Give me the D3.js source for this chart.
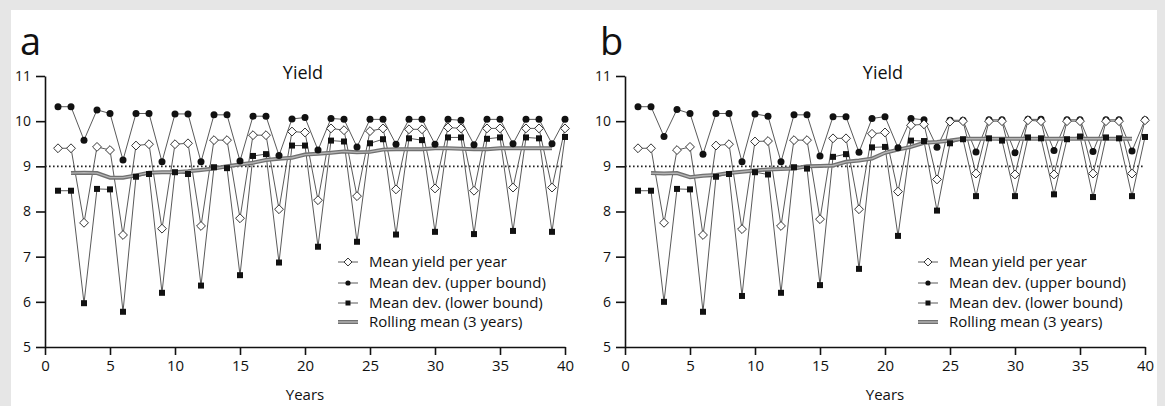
<!DOCTYPE html>
<html>
<head>
<meta charset="utf-8">
<script src="https://cdn.jsdelivr.net/npm/d3@7"></script>
<style>
  html, body { margin: 0; padding: 0; background: #e6e6e6; }
  svg { display: block; font-family: "Open Sans", Lato, sans-serif; }
</style>
</head>
<body>
<div id="chart"></div>
<script>
const years = d3.range(1, 41);
const rollYears = d3.range(2, 40);
const xTicks = [0, 5, 10, 15, 20, 25, 30, 35, 40];
const yTicks = [5, 6, 7, 8, 9, 10, 11];
const legendLabels = ['Mean yield per year', 'Mean dev. (upper bound)', 'Mean dev. (lower bound)', 'Rolling mean (3 years)'];

// panel a
const yieldA = [9.40, 9.40, 7.75, 9.43, 9.36, 7.48, 9.46, 9.49, 7.62, 9.49, 9.51, 7.68, 9.58, 9.58, 7.85, 9.69, 9.69, 8.05, 9.77, 9.75,
  8.25, 9.84, 9.80, 8.34, 9.78, 9.84, 8.49, 9.82, 9.82, 8.51, 9.86, 9.84, 8.46, 9.84, 9.84, 8.53, 9.84, 9.84, 8.53, 9.84];
const upperA = [10.32, 10.32, 9.58, 10.25, 10.17, 9.14, 10.17, 10.17, 9.10, 10.16, 10.16, 9.10, 10.14, 10.14, 9.12, 10.11, 10.11, 9.24, 10.05, 10.08,
  9.36, 10.06, 10.04, 9.43, 10.04, 10.04, 9.49, 10.04, 10.04, 9.49, 10.04, 10.02, 9.48, 10.04, 10.04, 9.50, 10.04, 10.04, 9.50, 10.04];
const lowerA = [8.46, 8.46, 5.97, 8.50, 8.49, 5.78, 8.77, 8.83, 6.20, 8.87, 8.83, 6.36, 8.98, 8.96, 6.59, 9.23, 9.27, 6.87, 9.46, 9.46,
  7.22, 9.57, 9.55, 7.33, 9.51, 9.60, 7.49, 9.62, 9.58, 7.55, 9.64, 9.64, 7.50, 9.61, 9.64, 7.57, 9.64, 9.62, 7.55, 9.65];
const rollA = [8.85, 8.86, 8.85, 8.75, 8.75, 8.80, 8.86, 8.87, 8.87, 8.89, 8.92, 8.95, 9.00, 9.04, 9.08, 9.14, 9.17, 9.19, 9.26,
  9.28, 9.30, 9.33, 9.31, 9.32, 9.37, 9.38, 9.38, 9.38, 9.40, 9.40, 9.39, 9.38, 9.38, 9.40, 9.40, 9.40, 9.40, 9.40];

// panel b
const yieldB = [9.40, 9.40, 7.75, 9.36, 9.43, 7.48, 9.46, 9.49, 7.61, 9.55, 9.56, 7.68, 9.58, 9.58, 7.83, 9.62, 9.62, 8.05, 9.72, 9.75,
  8.44, 9.91, 9.93, 8.71, 9.99, 10.00, 8.84, 10.00, 10.00, 8.82, 10.02, 10.00, 8.82, 10.00, 10.00, 8.84, 10.00, 10.00, 8.84, 10.02];
const upperB = [10.32, 10.32, 9.66, 10.26, 10.17, 9.27, 10.17, 10.17, 9.10, 10.16, 10.11, 9.10, 10.14, 10.14, 9.23, 10.10, 10.10, 9.31, 10.06, 10.10,
  9.41, 10.06, 10.03, 9.42, 10.02, 10.02, 9.32, 10.03, 10.03, 9.30, 10.04, 10.04, 9.35, 10.03, 10.03, 9.33, 10.03, 10.03, 9.34, 10.03];
const lowerB = [8.46, 8.46, 6.00, 8.50, 8.49, 5.78, 8.77, 8.83, 6.13, 8.87, 8.82, 6.20, 8.98, 8.95, 6.37, 9.21, 9.27, 6.73, 9.42, 9.43,
  7.46, 9.57, 9.56, 8.02, 9.51, 9.60, 8.34, 9.62, 9.57, 8.34, 9.64, 9.62, 8.38, 9.60, 9.66, 8.32, 9.64, 9.62, 8.34, 9.65];
const rollB = [8.85, 8.84, 8.85, 8.76, 8.79, 8.81, 8.85, 8.88, 8.91, 8.93, 8.94, 8.95, 9.00, 9.01, 9.02, 9.10, 9.13, 9.17, 9.30,
  9.37, 9.43, 9.52, 9.54, 9.57, 9.61, 9.61, 9.61, 9.61, 9.61, 9.61, 9.61, 9.61, 9.61, 9.61, 9.61, 9.61, 9.61, 9.61];

const W = 1165, H = 406;
const svg = d3.select('#chart').append('svg').attr('width', W).attr('height', H);

svg.append('rect').attr('x', 11).attr('y', 10).attr('width', 1146).attr('height', H - 10).attr('fill', '#fff');

const lineCol = '#5a5a5a';

function panel(offsetX, letter, yieldV, upperV, lowerV, rollV) {
  const x = d3.scaleLinear().domain([0, 40]).range([offsetX + 45, offsetX + 565]);
  const y = d3.scaleLinear().domain([5, 11]).range([347, 76]);
  const g = svg.append('g');

  // panel letter and title
  g.append('text').attr('x', offsetX + 20).attr('y', 55)
    .attr('font-size', '38px').attr('fill', '#111').text(letter);
  g.append('text').attr('x', offsetX + 303).attr('y', 79)
    .attr('text-anchor', 'middle').attr('font-size', '18px').attr('fill', '#111').text('Yield');

  // axes
  g.append('g').attr('transform', 'translate(0,347)')
    .call(d3.axisBottom(x).tickValues(xTicks).tickSize(8).tickPadding(5).tickSizeOuter(0))
    .call(a => a.selectAll('path,line').attr('stroke', '#111').attr('stroke-width', 1.6))
    .call(a => a.selectAll('text').attr('font-size', '15px').attr('fill', '#111').attr('font-family', '"Open Sans", sans-serif'));

  g.append('g').attr('transform', `translate(${offsetX + 45},0)`)
    .call(d3.axisLeft(y).tickValues(yTicks).tickFormat(d3.format('d')).tickSize(9).tickPadding(5).tickSizeOuter(0))
    .call(a => a.selectAll('path,line').attr('stroke', '#111').attr('stroke-width', 1.6))
    .call(a => a.selectAll('text').attr('font-size', '14px').attr('fill', '#111').attr('font-family', '"Open Sans", sans-serif'));

  g.append('text').attr('x', offsetX + 305).attr('y', 400)
    .attr('text-anchor', 'middle').attr('font-size', '15px').attr('fill', '#111').text('Years');

  // reference line at 9
  g.append('line').attr('x1', x(0)).attr('x2', x(40)).attr('y1', y(9)).attr('y2', y(9))
    .attr('stroke', '#222').attr('stroke-width', 1.6).attr('stroke-dasharray', '1.6,2.4');

  const line = d3.line().x(d => x(d[0])).y(d => y(d[1]));
  const pts = v => years.map((yr, i) => [yr, v[i]]);

  [upperV, lowerV, yieldV].forEach(v => {
    g.append('path').datum(pts(v)).attr('d', line)
      .attr('fill', 'none').attr('stroke', lineCol).attr('stroke-width', 1);
  });

  const roll = rollYears.map((yr, i) => [yr, rollV[i]]);
  g.append('path').datum(roll).attr('d', line).attr('fill', 'none')
    .attr('stroke', '#707070').attr('stroke-width', 4);
  g.append('path').datum(roll).attr('d', line).attr('fill', 'none')
    .attr('stroke', '#b5b5b5').attr('stroke-width', 1.4);

  // markers
  g.append('g').selectAll('circle').data(pts(upperV)).join('circle')
    .attr('cx', d => x(d[0])).attr('cy', d => y(d[1])).attr('r', 3.5).attr('fill', '#111');
  g.append('g').selectAll('rect').data(pts(lowerV)).join('rect')
    .attr('x', d => x(d[0]) - 3).attr('y', d => y(d[1]) - 3).attr('width', 6).attr('height', 6).attr('fill', '#111');
  g.append('g').selectAll('path').data(pts(yieldV)).join('path')
    .attr('d', d3.symbol(d3.symbolDiamond2, 50))
    .attr('transform', d => `translate(${x(d[0])},${y(d[1])})`)
    .attr('fill', '#fff').attr('stroke', '#333').attr('stroke-width', 1);

  // legend
  const lx = offsetX + 338, ly = [262, 283, 303, 322];
  const leg = g.append('g');
  legendLabels.forEach((lab, i) => {
    const yy = ly[i];
    if (i < 3) {
      leg.append('line').attr('x1', lx).attr('x2', lx + 20).attr('y1', yy).attr('y2', yy)
        .attr('stroke', lineCol).attr('stroke-width', 1);
    } else {
      leg.append('line').attr('x1', lx).attr('x2', lx + 20).attr('y1', yy).attr('y2', yy)
        .attr('stroke', '#707070').attr('stroke-width', 4);
      leg.append('line').attr('x1', lx).attr('x2', lx + 20).attr('y1', yy).attr('y2', yy)
        .attr('stroke', '#b5b5b5').attr('stroke-width', 1.4);
    }
    if (i === 0) {
      leg.append('path').attr('d', d3.symbol(d3.symbolDiamond2, 40))
        .attr('transform', `translate(${lx + 10},${yy})`)
        .attr('fill', '#fff').attr('stroke', '#333').attr('stroke-width', 1);
    } else if (i === 1) {
      leg.append('circle').attr('cx', lx + 10).attr('cy', yy).attr('r', 2.6).attr('fill', '#111');
    } else if (i === 2) {
      leg.append('rect').attr('x', lx + 7.5).attr('y', yy - 2.5).attr('width', 5).attr('height', 5).attr('fill', '#111');
    }
    leg.append('text').attr('x', lx + 31).attr('y', yy + 5)
      .attr('font-size', '15px').attr('fill', '#111').text(lab);
  });
}

panel(0, 'a', yieldA, upperA, lowerA, rollA);
panel(580, 'b', yieldB, upperB, lowerB, rollB);
</script>
</body>
</html>
